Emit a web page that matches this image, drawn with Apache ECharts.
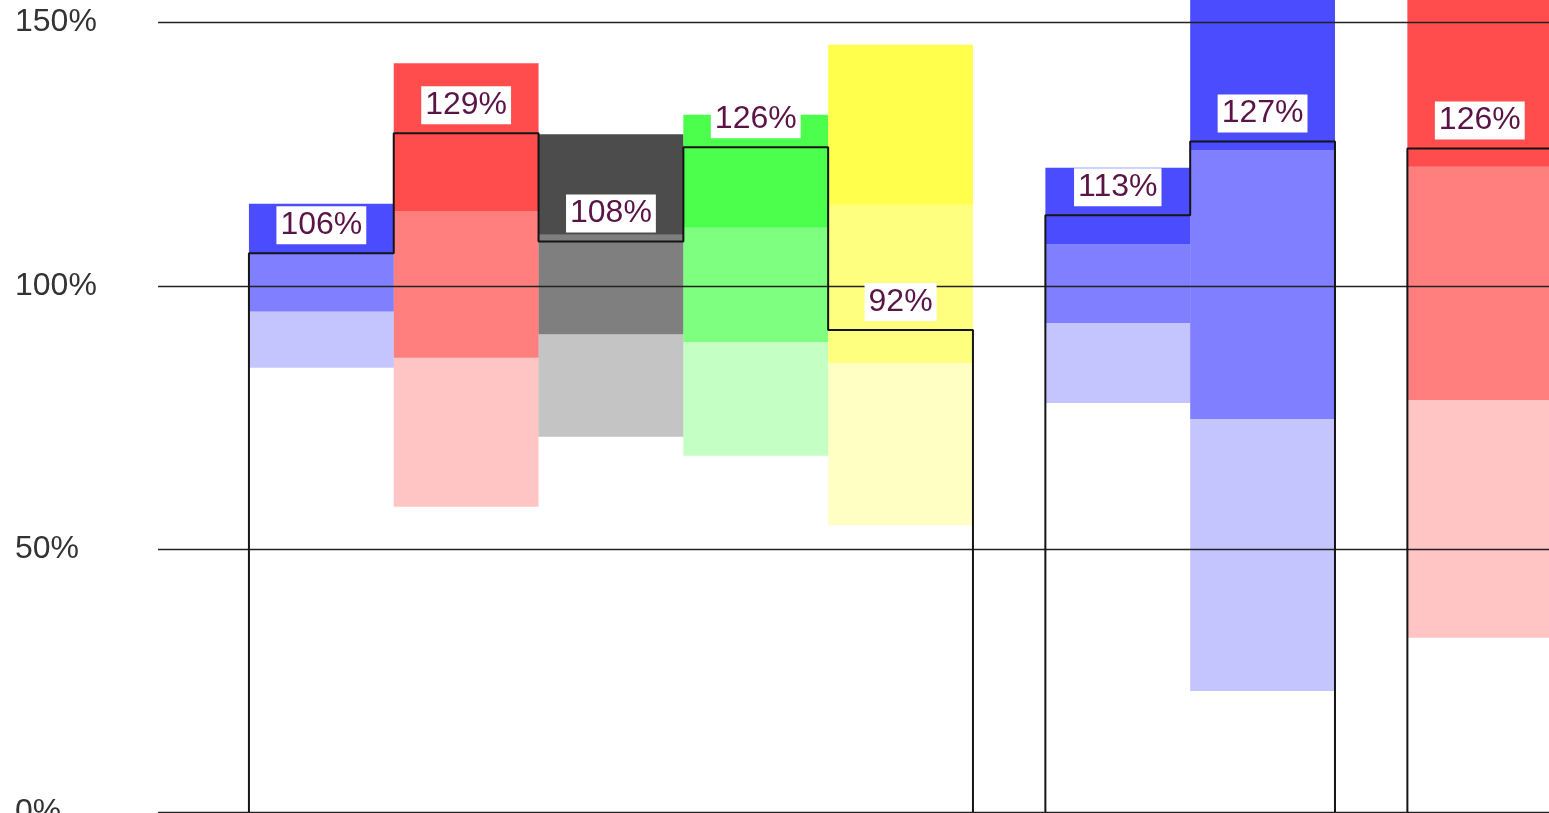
<!DOCTYPE html>
<html>
<head>
<meta charset="utf-8">
<script src="https://cdn.jsdelivr.net/npm/echarts@6/dist/echarts.min.js"></script>
<style>
html,body{margin:0;padding:0;background:#fff;}
#chart{width:1549px;height:813px;}
</style>
</head>
<body>
<div id="chart"></div>
<script>
// ---- data ----
const groupSizes = [5, 2, 1];                       // bars per group
const barColors  = ['blue','red','gray','green','yellow','blue','blue','red'];
const values     = [106.2, 129.0, 108.4, 126.3, 91.6, 113.4, 127.4, 126.1];
const bandLow    = [84.4, 58.0, 71.3, 67.7, 54.5, 77.7, 23.0, 33.1];   // light band bottom
const bandMid1   = [95.1, 86.3, 90.8, 89.3, 85.3, 92.9, 74.7, 78.3];   // light/medium boundary
const bandMid2   = [106.2, 114.2, 109.7, 111.0, 115.4, 107.9, 125.8, 122.6]; // medium/dark boundary
const bandHigh   = [115.6, 142.3, 128.8, 132.5, 145.8, 122.4, 160, 160];    // dark band top
const yTicks     = [0, 50, 100, 150];

// ---- styling ----
const baseRGB = { blue:[0,0,255], red:[255,0,0], gray:[0,0,0], green:[0,255,0], yellow:[255,255,0] };
const alphas = [0.23, 0.5, 0.7];
const FONT = '"Liberation Sans", Arial, sans-serif';

// layout of bars along x (one unit per bar, half a bar gap between groups)
const starts = [];
const groupBars = [];
let pos = 0, idx = 0;
groupSizes.forEach(n => {
  const g = [];
  for (let k = 0; k < n; k++) { starts.push(pos); g.push(idx); pos += 1; idx++; }
  groupBars.push(g);
  pos += 0.5;
});

const barData = starts.map((s, i) => [s, s + 1, bandLow[i], bandMid1[i], bandMid2[i], bandHigh[i], i]);
const labelData = starts.map((s, i) => [s + 0.5, values[i]]);

const outlineSeries = groupBars.map((g, gi) => {
  const pts = [];
  const s0 = starts[g[0]];
  pts.push([s0, 0]);
  g.forEach(i => { pts.push([starts[i], values[i]]); pts.push([starts[i] + 1, values[i]]); });
  pts.push([starts[g[g.length - 1]] + 1, 0]);
  const ser = {
    type: 'line', data: pts, showSymbol: false, symbol: 'none', z: 6, silent: true,
    lineStyle: { color: '#151515', width: 2 }, animation: false
  };
  if (gi === 0) {
    ser.markLine = {
      silent: true, symbol: 'none', animation: false, z: 5,
      label: { show: false },
      lineStyle: { color: '#222', width: 1.4, type: 'solid' },
      data: yTicks.map(v => ({ yAxis: v }))
    };
  }
  return ser;
});

const chart = echarts.init(document.getElementById('chart'), null, { renderer: 'canvas' });
chart.setOption({
  animation: false,
  backgroundColor: '#ffffff',
  grid: { left: 158, right: 0, top: 0, bottom: 1, containLabel: false, outerBoundsMode: 'none' },
  xAxis: { type: 'value', min: -0.628, max: 8.978, show: false },
  yAxis: {
    type: 'value', min: 0, max: 154.3, interval: 50,
    axisLine: { show: false }, axisTick: { show: false }, splitLine: { show: false },
    axisLabel: {
      formatter: v => (yTicks.indexOf(v) >= 0 ? v + '%' : ''),
      showMaxLabel: false, hideOverlap: false,
      align: 'left', margin: 143, fontSize: 32, color: '#333', fontFamily: FONT,
      padding: [6, 0, 0, 0]
    }
  },
  series: [
    {
      type: 'custom', z: 2, clip: true, silent: true,
      encode: { x: [0, 1], y: [2, 3, 4, 5] },
      data: barData,
      renderItem: (params, api) => {
        const i = api.value(6);
        const rgb = baseRGB[barColors[i]];
        const x0 = api.coord([api.value(0), 0])[0];
        const x1 = api.coord([api.value(1), 0])[0];
        const ys = [2, 3, 4, 5].map(d => api.coord([0, api.value(d)])[1]);
        const children = [];
        for (let b = 0; b < 3; b++) {
          children.push({
            type: 'rect',
            shape: { x: x0, y: ys[b + 1], width: x1 - x0, height: ys[b] - ys[b + 1] },
            style: { fill: `rgba(${rgb[0]},${rgb[1]},${rgb[2]},${alphas[b]})` }
          });
        }
        return { type: 'group', children };
      }
    },
    ...outlineSeries,
    {
      type: 'custom', z: 10, silent: true,
      encode: { x: 0, y: 1 },
      data: labelData,
      renderItem: (params, api) => {
        const p = api.coord([api.value(0), api.value(1)]);
        return {
          type: 'text', x: p[0], y: p[1] - 9,
          style: {
            text: Math.round(api.value(1)) + '%',
            fill: '#5a1546', fontSize: 32, fontFamily: FONT,
            align: 'center', verticalAlign: 'bottom',
            backgroundColor: '#ffffff', padding: [3, 4, 3, 4]
          }
        };
      }
    }
  ]
});
</script>
</body>
</html>
